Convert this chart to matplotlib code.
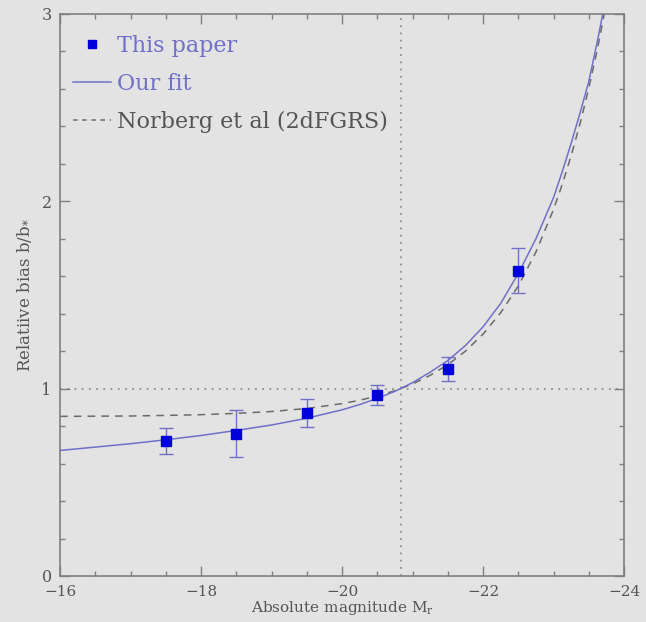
import matplotlib
matplotlib.use("Agg")
import matplotlib.pyplot as plt
from matplotlib.lines import Line2D
from matplotlib.legend_handler import HandlerLine2D

# measured points (this paper)
mags = [-17.5, -18.5, -19.5, -20.5, -21.5, -22.5]
bias = [0.72, 0.76, 0.87, 0.966, 1.105, 1.63]
bias_err = [0.07, 0.125, 0.077, 0.053, 0.065, 0.12]

# curves
curve_mags = [-16, -16.5, -17, -17.5, -18, -18.5, -19, -19.5, -20, -20.25, -20.5,
              -20.75, -21, -21.25, -21.5, -21.75, -22, -22.25, -22.5, -22.75,
              -23, -23.125, -23.25, -23.375, -23.5, -23.625, -23.75]
our_fit = [0.67, 0.688, 0.706, 0.727, 0.75, 0.777, 0.806, 0.842, 0.887, 0.915, 0.948,
           0.986, 1.032, 1.088, 1.15, 1.23, 1.33, 1.455, 1.615, 1.80,
           2.02, 2.16, 2.31, 2.47, 2.64, 2.86, 3.10]
norberg = [0.852, 0.853, 0.854, 0.857, 0.861, 0.868, 0.878, 0.894, 0.920, 0.938, 0.961,
           0.989, 1.025, 1.071, 1.128, 1.200, 1.291, 1.405, 1.548, 1.729,
           1.957, 2.092, 2.244, 2.413, 2.604, 2.818, 3.058]

m_star = -20.83

BG = "#e3e3e3"
BLUE = "#0000d8"
FIT = "#7070c8"
GREY = "#6a6a6a"
AXC = "#808080"
TXT = "#555555"


class RightMarker(HandlerLine2D):
    # put the legend square near the text, like the original
    def get_xdata(self, legend, xdescent, ydescent, width, height, fontsize):
        xdata = [-xdescent, -xdescent + width]
        return xdata, [-xdescent + 0.75 * width]


plt.rcParams['font.family'] = ['DejaVu Serif']

fig = plt.figure(figsize=(6.46, 6.22), dpi=100, facecolor=BG)
ax = fig.add_axes([0.093, 0.074, 0.873, 0.9035])
ax.set_facecolor(BG)

ax.axhline(1.0, color="#909090", ls=(0, (1, 3)), lw=1.3, zorder=1)
ax.axvline(m_star, color="#909090", ls=(0, (1, 3)), lw=1.3, zorder=1)

ax.plot(curve_mags, norberg, color=GREY, ls=(0, (5, 4)), lw=1.1, zorder=2)
ax.plot(curve_mags, our_fit, color=FIT, lw=1.1, zorder=3)
ax.errorbar(mags, bias, yerr=bias_err, fmt="none", ecolor=FIT, elinewidth=1.0,
            capsize=4.8, capthick=1.0, zorder=4)
ax.plot(mags, bias, "s", color=BLUE, ms=7, zorder=5)

ax.set_xlim(-16, -24)
ax.set_ylim(0, 3)
ax.set_xticks([-16, -18, -20, -22, -24])
ax.set_xticks([-16 - 0.5 * i for i in range(17)], minor=True)
ax.set_yticks([0, 1, 2, 3])
ax.set_yticks([0.2 * i for i in range(16)], minor=True)

for s in ax.spines.values():
    s.set_color(AXC)
    s.set_linewidth(1.2)
ax.tick_params(which="both", direction="in", top=True, right=True, color=AXC,
               labelcolor=TXT, labelsize=11.5)
ax.tick_params(which="major", length=7, width=1.0, pad=6)
ax.tick_params(which="minor", length=3.5, width=1.0)
ax.tick_params(axis="x", which="major", pad=6.5, labelsize=11)

ax.set_xlabel(r"Absolute magnitude M$_\mathregular{r}$", fontsize=11, color=TXT, labelpad=0)
ax.set_ylabel(r"Relatiive bias b/b$_\mathregular{*}$", fontsize=12, color=TXT, labelpad=6)

handles = [
    Line2D([], [], ls="none", marker="s", color=BLUE, ms=6),
    Line2D([], [], color=FIT, lw=1.1),
    Line2D([], [], color=GREY, ls=(0, (3, 3)), lw=1.1),
]
labels = ["This paper", "Our fit", "Norberg et al (2dFGRS)"]
ax.legend(handles, labels, loc="upper left", bbox_to_anchor=(-0.005, 0.99),
          frameon=False, fontsize=16, handlelength=1.7, handletextpad=0.3,
          labelspacing=0.72, borderaxespad=0.3, numpoints=1,
          labelcolor=[FIT, FIT, TXT],
          handler_map={handles[0]: RightMarker()})

fig.savefig("out.png", dpi=100, facecolor=BG)
